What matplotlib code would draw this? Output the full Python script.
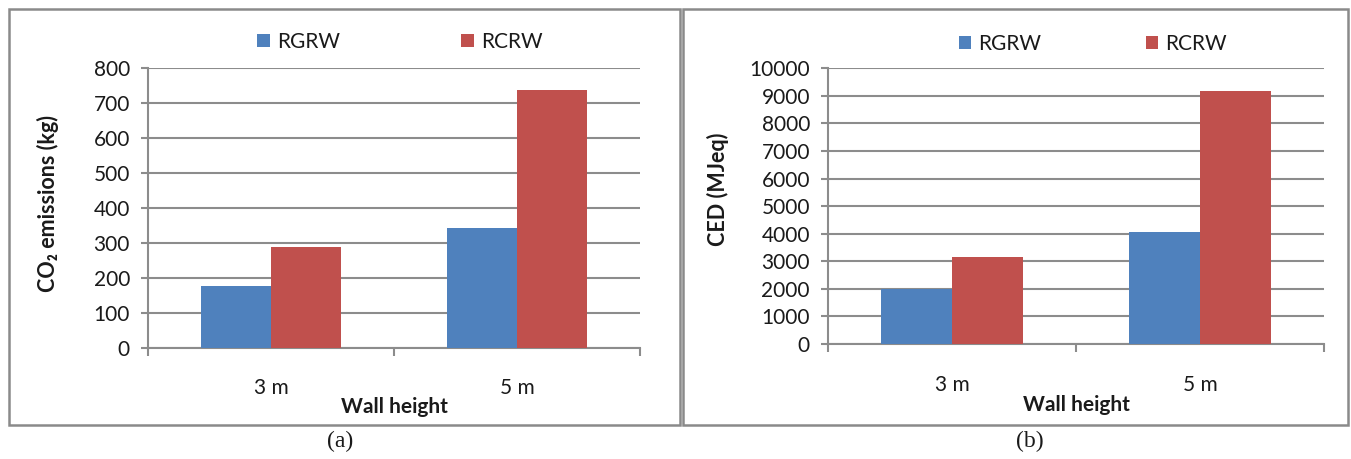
import matplotlib
matplotlib.use("Agg")
import matplotlib.pyplot as plt
import numpy as np
from matplotlib.patches import Rectangle
from matplotlib.transforms import blended_transform_factory

plt.rcParams['font.family'] = ['Lato', 'DejaVu Sans']

categories = ["3 m", "5 m"]
series_names = ["RGRW", "RCRW"]
co2_rgrw = [177, 344]
co2_rcrw = [288, 738]
ced_rgrw = [2010, 4060]
ced_rcrw = [3150, 9180]

blue = "#4F81BD"
red = "#C0504D"
grid_col = "#8C8C8C"
text_col = "#1A1A1A"

W, H = 1351, 459
fig = plt.figure(figsize=(W / 100, H / 100), dpi=100)


def fx(px):
    return px / W


def fy(py):
    return 1 - py / H


# panel frames
for x0, x1 in [(9, 680), (683, 1348)]:
    fig.patches.append(Rectangle((fx(x0), fy(425)), fx(x1 - x0), (425 - 9) / H,
                                 transform=fig.transFigure, fill=False,
                                 edgecolor="#8A8A8A", linewidth=1.8))


def panel(rect, a, b, ymax, ystep, ylabel, ylabel_xy, leg_anchor, colspace,
          xlabel_y, xtick_y):
    ax = fig.add_axes(rect)
    x = np.arange(len(categories))
    w = 0.285
    ax.bar(x - w / 2, a, w, color=blue, label=series_names[0], zorder=3)
    ax.bar(x + w / 2, b, w, color=red, label=series_names[1], zorder=3)
    ax.set_xlim(-0.5, len(categories) - 0.5)
    ax.set_ylim(0, ymax)
    ax.set_yticks(np.arange(0, ymax + 1, ystep))
    ax.yaxis.grid(True, color=grid_col, linewidth=1.5, zorder=0)
    ax.set_axisbelow(True)
    for s in ["top", "right"]:
        ax.spines[s].set_visible(False)
    for s in ["left", "bottom"]:
        ax.spines[s].set_color(grid_col)
        ax.spines[s].set_linewidth(1.5)
    ax.tick_params(axis="y", length=5, width=1.5, color=grid_col, pad=8,
                   labelsize=15, labelcolor=text_col)
    # category boundaries carry the x tick marks
    ax.set_xticks([-0.5, 0.5, 1.5])
    ax.set_xticklabels([])
    ax.tick_params(axis="x", length=6, width=1.5, color=grid_col)
    trans = blended_transform_factory(ax.transData, fig.transFigure)
    for i, c in enumerate(categories):
        ax.text(i, fy(xtick_y), c, transform=trans,
                ha="center", va="center", fontsize=15, color=text_col)
    fig.text(rect[0] + rect[2] / 2, fy(xlabel_y), "Wall height",
             ha="center", va="center", fontsize=15, fontweight="bold", color=text_col)
    fig.text(fx(ylabel_xy[0]), fy(ylabel_xy[1]), ylabel, rotation=90,
             ha="center", va="center", fontsize=15.5, fontweight="bold", color=text_col)
    ax.legend(loc="center", bbox_to_anchor=leg_anchor, bbox_transform=fig.transFigure,
              ncol=2, frameon=False, fontsize=15, handlelength=0.6, handleheight=0.6,
              handletextpad=0.35, columnspacing=colspace, labelcolor=text_col)
    return ax


panel([fx(148), fy(348), fx(640 - 148), (348 - 68) / H], co2_rgrw, co2_rcrw, 800, 100,
      "CO\u2082 emissions (kg)", (48, 204), (fx(400), fy(42)), 5.8, 407, 388)
panel([fx(828), fy(344), fx(1324 - 828), (344 - 68.3) / H], ced_rgrw, ced_rcrw, 10000, 1000,
      "CED (MJeq)", (718, 189), (fx(1093), fy(44)), 5.0, 405, 385)

fig.text(fx(340), fy(441), "(a)", ha="center", va="center", fontsize=17,
         family="Liberation Serif", color=text_col)
fig.text(fx(1030), fy(441), "(b)", ha="center", va="center", fontsize=17,
         family="Liberation Serif", color=text_col)

fig.savefig("out.png", dpi=100, facecolor="white")
